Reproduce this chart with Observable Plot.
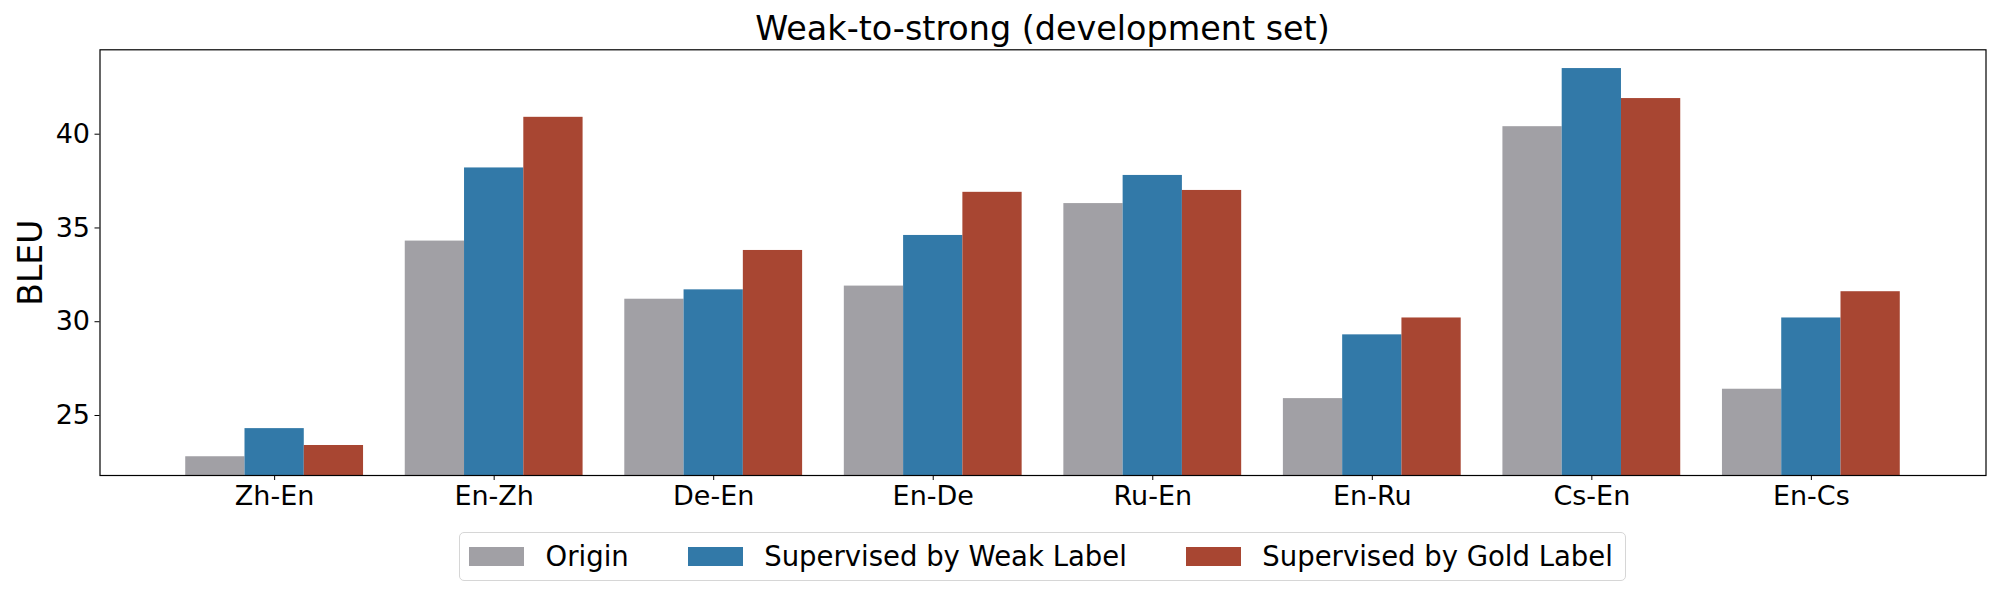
<!DOCTYPE html>
<html>
<head>
<meta charset="utf-8">
<script src="https://cdn.jsdelivr.net/npm/d3@7"></script>
<script src="https://cdn.jsdelivr.net/npm/@observablehq/plot@0.6"></script>
<style>
  html, body { margin: 0; padding: 0; background: #fff; }
  body { width: 2000px; height: 600px; overflow: hidden; font-family: "DejaVu Sans", sans-serif; color: #000; }
  #title { height: 40px; box-sizing: border-box; padding-top: 12px; margin-left: 99.5px; width: 1886px;
           text-align: center; font-size: 33.4px; line-height: 1; white-space: nowrap; }
  #chart { height: 480px; }
  #legend-wrap { width: 2000px; display: flex; justify-content: center; padding-left: 85px; box-sizing: border-box; }
  #legend { margin-top: 11.5px; display: inline-flex; align-items: center; height: 49px; box-sizing: border-box;
            border: 1.5px solid #d6d6d6; border-radius: 5px; padding: 0 12px 0 9px; font-size: 27.5px; }
  .item { display: flex; align-items: center; }
  .item + .item { margin-left: 59px; }
  .sw { width: 55px; height: 19px; margin-right: 21.5px; }
</style>
</head>
<body>
<div id="title">Weak-to-strong (development set)</div>
<div id="chart"></div>
<div id="legend-wrap"><div id="legend"></div></div>
<script>
const pairs = ["Zh-En", "En-Zh", "De-En", "En-De", "Ru-En", "En-Ru", "Cs-En", "En-Cs"];
const series = ["Origin", "Supervised by Weak Label", "Supervised by Gold Label"];
const colors = ["#a1a0a5", "#3279a8", "#a84632"];
const origin = [22.8, 34.3, 31.2, 31.9, 36.3, 25.9, 40.4, 26.4];
const weak   = [24.3, 38.2, 31.7, 34.6, 37.8, 29.3, 43.5, 30.2];
const gold   = [23.4, 40.9, 33.8, 36.9, 37.0, 30.2, 41.9, 31.6];
const yTicks = [25, 30, 35, 40];
const yLabel = "BLEU";

const barWidth = 0.27;   // width of one bar in category units
const valuesBySeries = [origin, weak, gold];
const data = [];
pairs.forEach((p, i) => series.forEach((s, j) => {
  const x1 = i + (j - series.length / 2) * barWidth;
  data.push({pair: p, index: i, series: s, value: valuesBySeries[j][i], x1, x2: x1 + barWidth});
}));

const allVals = data.map(d => d.value);
const yMin = d3.min(allVals) - 1;
const yMax = d3.max(allVals) + 1;
const xLo = d3.min(data, d => d.x1), xHi = d3.max(data, d => d.x2);
const xPad = (xHi - xLo) * 0.05;

const W = 2000, H = 480, mL = 99.5, mR = 14.5, mT = 9.3, mB = 45;

const chart = Plot.plot({
  width: W, height: H,
  marginLeft: mL, marginRight: mR, marginTop: mT, marginBottom: mB,
  style: {fontFamily: "DejaVu Sans", fontSize: "27px", color: "#000", background: "#fff"},
  x: {domain: [xLo - xPad, xHi + xPad]},
  y: {domain: [yMin, yMax]},
  color: {domain: series, range: colors},
  marks: [
    Plot.rectY(data, {x1: "x1", x2: "x2", y1: yMin, y2: "value", fill: "series", inset: 0}),
    Plot.axisY({ticks: yTicks, tickSize: 5, tickPadding: 5, fontSize: 27, label: yLabel, labelAnchor: "center", labelArrow: "none", labelOffset: 81.5}),
    Plot.axisX({ticks: d3.range(pairs.length), tickFormat: i => pairs[i], tickSize: 5, tickPadding: 5, fontSize: 27, label: null}),
    Plot.frame({stroke: "#000", strokeWidth: 1.2})
  ]
});
document.getElementById("chart").appendChild(chart);

const svg = d3.select(chart.tagName.toLowerCase() === "svg" ? chart : chart.querySelector("svg"));
svg.selectAll('[aria-label="y-axis label"] text').style("font-size", "33px");

const legend = d3.select("#legend");
series.forEach((s, i) => {
  const it = legend.append("div").attr("class", "item");
  it.append("div").attr("class", "sw").style("background", colors[i]);
  it.append("span").text(s);
});
</script>
</body>
</html>
